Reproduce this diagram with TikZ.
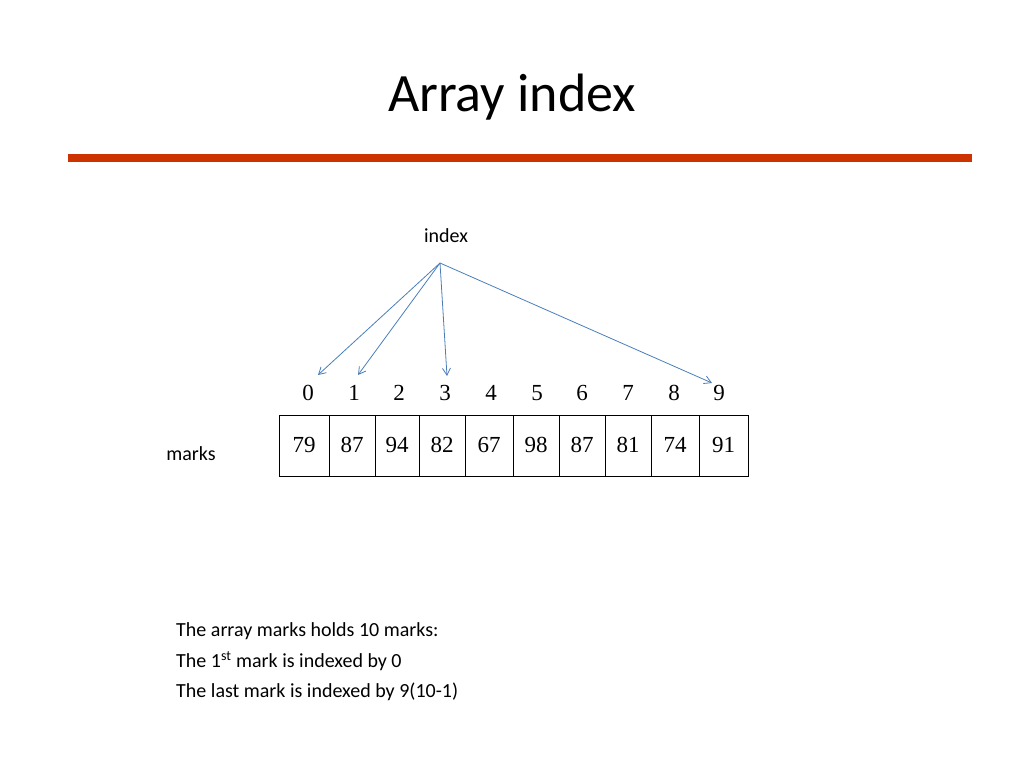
\documentclass[tikz,border=0pt]{standalone}
\usepackage{fontspec}
\usetikzlibrary{arrows.meta}
\setmainfont{Carlito}
\newfontfamily\serifnum{Liberation Serif}
\definecolor{barred}{RGB}{204,51,0}
\definecolor{arrblue}{RGB}{74,126,187}
\begin{document}
\begin{tikzpicture}[x=1pt,y=-1pt,
  lbl/.style={inner sep=0pt,font=\fontsize{20}{24}\selectfont},
  idx/.style={inner sep=0pt,font=\serifnum\fontsize{23}{26}\selectfont},
  ptr/.style={draw=arrblue,line width=0.8pt,-{Straight Barb[length=7pt,width=8pt]}}]
\useasboundingbox (0,0) rectangle (1024,768);
\node[inner sep=0pt,font=\fontsize{54}{60}\selectfont] (title) at (512,97) {Array index};
\fill[barred] (68,154) rectangle (972,162);
\node[lbl] (index) at (446,236) {index};
\coordinate (src) at (440,263);
\foreach \i/\x in {0/308,1/354,2/399,3/445,4/491,5/537,6/582,7/628,8/674,9/719}
  \node[idx] (n\i) at (\x,393) {\i};
\def\xs{{279,329,375,419,465,513,559,605,651,699,748}}
\foreach \v [count=\k from 0] in {79,87,94,82,67,98,87,81,74,91}{
  \pgfmathsetmacro\xa{\xs[\k]}\pgfmathsetmacro\xb{\xs[\k+1]}
  \draw[line width=0.8pt] (\xa,415) rectangle (\xb,476);
  \node[idx] (c\k) at ({(\xa+\xb)/2},445) {\v};
}
\coordinate (t0) at (318,375);
\coordinate (t1) at (358,375);
\coordinate (t3) at (447,376);
\coordinate (t9) at (712,383);
\foreach \t in {t0,t1,t3,t9} \draw[ptr] (src) -- (\t);
\node[lbl] (marks) at (191,454) {marks};
\node[lbl,anchor=west] (l1) at (176,631) {The array marks holds 10 marks:};
\node[lbl,anchor=west] (l2) at (176,661) {The 1\textsuperscript{st} mark is indexed by 0};
\node[lbl,anchor=west] (l3) at (176,692) {The last mark is indexed by 9(10-1)};
\end{tikzpicture}
\end{document}
